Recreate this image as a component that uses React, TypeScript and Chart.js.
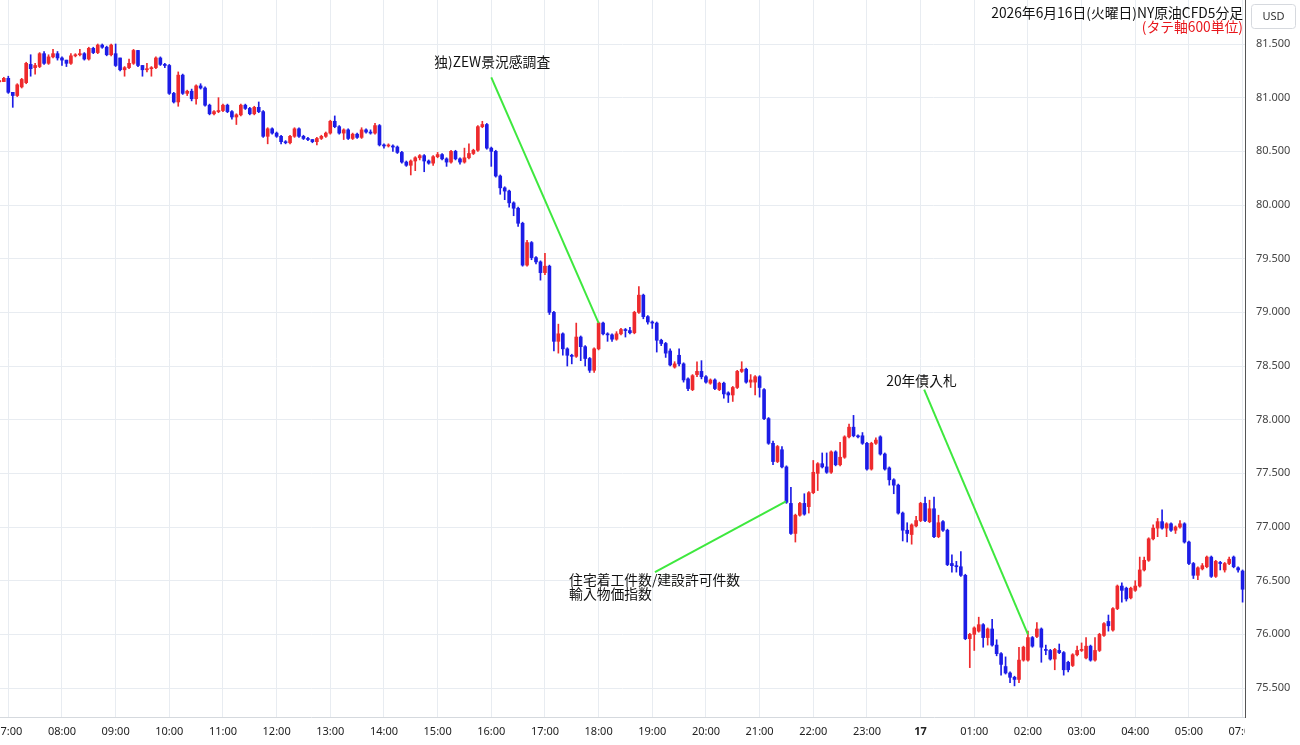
import { useEffect, useRef } from "react";
import { Chart, registerables } from "chart.js";

Chart.register(...registerables);

// ---------- data (5-minute candles, NY crude CFD) ----------
const preSessionTimes = ["05:50", "05:55"];
const sessionHours = ["07", "08", "09", "10", "11", "12", "13", "14", "15", "16", "17", "18", "19", "20", "21", "22", "23", "00", "01", "02", "03", "04", "05"];
const minuteSteps = ["00", "05", "10", "15", "20", "25", "30", "35", "40", "45", "50", "55"];
const postSessionTimes = ["07:00"];
const dayChangeLabel = "17";

const opens = [
  81.15, 81.15,
  81.18, 81.05, 81.02, 81.10, 81.14, 81.31, 81.28, 81.29, 81.41, 81.32, 81.38, 81.41,
  81.37, 81.35, 81.32, 81.39, 81.40, 81.41, 81.36, 81.46, 81.42, 81.49, 81.47, 81.40,
  81.41, 81.37, 81.26, 81.28, 81.32, 81.44, 81.30, 81.26, 81.27, 81.28, 81.37, 81.31,
  81.30, 81.04, 80.96, 81.21, 81.04, 81.06, 80.99, 81.11, 81.09, 80.93, 80.85, 80.87,
  80.88, 80.93, 80.87, 80.82, 80.84, 80.93, 80.90, 80.85, 80.91, 80.87, 80.64, 80.71,
  80.67, 80.64, 80.59, 80.58, 80.64, 80.71, 80.64, 80.62, 80.61, 80.59, 80.62, 80.64,
  80.67, 80.78, 80.73, 80.67, 80.70, 80.62, 80.66, 80.63, 80.70, 80.68, 80.67, 80.74,
  80.56, 80.55, 80.55, 80.54, 80.49, 80.40, 80.37, 80.41, 80.44, 80.46, 80.41, 80.39,
  80.45, 80.47, 80.43, 80.40, 80.50, 80.43, 80.40, 80.44, 80.48, 80.51, 80.73, 80.75,
  80.53, 80.50, 80.27, 80.16, 80.13, 80.02, 79.97, 79.83, 79.44, 79.65, 79.51, 79.47,
  79.37, 79.43, 79.00, 78.73, 78.80, 78.66, 78.60, 78.59, 78.77, 78.68, 78.57, 78.46,
  78.66, 78.90, 78.80, 78.79, 78.75, 78.80, 78.84, 78.83, 78.81, 79.00, 79.16, 78.96,
  78.91, 78.90, 78.74, 78.71, 78.64, 78.49, 78.60, 78.52, 78.38, 78.28, 78.42, 78.45,
  78.40, 78.34, 78.37, 78.28, 78.34, 78.25, 78.23, 78.30, 78.45, 78.47, 78.35, 78.35,
  78.40, 78.28, 78.01, 77.78, 77.61, 77.72, 77.56, 77.22, 76.94, 77.11, 77.22, 77.19,
  77.32, 77.50, 77.59, 77.56, 77.51, 77.70, 77.58, 77.65, 77.84, 77.93, 77.85, 77.85,
  77.78, 77.54, 77.78, 77.84, 77.68, 77.55, 77.44, 77.39, 77.13, 76.97, 76.93, 77.01,
  77.06, 77.22, 77.05, 77.17, 76.91, 77.05, 76.97, 76.66, 76.64, 76.63, 76.55, 75.96,
  76.00, 76.03, 76.09, 75.97, 76.05, 75.90, 75.82, 75.70, 75.64, 75.60, 75.58, 75.76,
  75.76, 75.97, 75.98, 76.05, 75.86, 75.85, 75.77, 75.85, 75.83, 75.74, 75.71, 75.81,
  75.85, 75.78, 75.89, 75.76, 75.85, 75.99, 76.12, 76.04, 76.24, 76.45, 76.43, 76.34,
  76.41, 76.45, 76.60, 76.69, 76.89, 76.99, 77.05, 76.99, 77.03, 76.97, 77.00, 77.03,
  76.86, 76.66, 76.55, 76.61, 76.63, 76.72, 76.54, 76.67, 76.60, 76.66, 76.72, 76.62,
  76.59,
];

const highs = [
  81.16, 81.19,
  81.20, 81.05, 81.13, 81.18, 81.33, 81.40, 81.32, 81.42, 81.43, 81.40, 81.45, 81.43,
  81.38, 81.35, 81.41, 81.41, 81.45, 81.42, 81.47, 81.47, 81.50, 81.50, 81.48, 81.50,
  81.50, 81.37, 81.29, 81.36, 81.45, 81.44, 81.30, 81.32, 81.29, 81.38, 81.38, 81.32,
  81.31, 81.05, 81.24, 81.22, 81.07, 81.08, 81.12, 81.13, 81.10, 80.94, 80.88, 81.00,
  80.94, 80.94, 80.88, 80.85, 80.94, 80.94, 80.91, 80.92, 80.96, 80.88, 80.72, 80.72,
  80.68, 80.65, 80.60, 80.65, 80.72, 80.72, 80.65, 80.63, 80.61, 80.63, 80.65, 80.68,
  80.79, 80.83, 80.74, 80.71, 80.71, 80.67, 80.67, 80.72, 80.71, 80.70, 80.76, 80.75,
  80.57, 80.57, 80.56, 80.55, 80.50, 80.41, 80.42, 80.45, 80.47, 80.47, 80.42, 80.46,
  80.49, 80.48, 80.44, 80.51, 80.51, 80.44, 80.53, 80.57, 80.52, 80.74, 80.78, 80.76,
  80.54, 80.51, 80.28, 80.17, 80.14, 80.03, 79.98, 79.84, 79.67, 79.66, 79.52, 79.48,
  79.55, 79.44, 79.01, 78.89, 78.81, 78.67, 78.61, 78.90, 78.78, 78.69, 78.58, 78.67,
  78.91, 78.91, 78.81, 78.80, 78.82, 78.85, 78.85, 78.86, 79.01, 79.24, 79.17, 78.97,
  78.92, 78.91, 78.75, 78.72, 78.66, 78.54, 78.66, 78.53, 78.39, 78.42, 78.54, 78.55,
  78.41, 78.38, 78.38, 78.35, 78.35, 78.26, 78.31, 78.46, 78.54, 78.48, 78.42, 78.41,
  78.41, 78.29, 78.02, 77.80, 77.76, 77.75, 77.57, 77.37, 77.12, 77.23, 77.31, 77.33,
  77.62, 77.60, 77.69, 77.69, 77.71, 77.71, 77.79, 77.85, 77.96, 78.04, 77.86, 77.88,
  77.79, 77.79, 77.83, 77.85, 77.69, 77.56, 77.45, 77.40, 77.14, 77.04, 77.03, 77.10,
  77.23, 77.28, 77.25, 77.28, 77.11, 77.06, 76.98, 76.74, 76.68, 76.77, 76.56, 76.01,
  76.07, 76.16, 76.10, 76.06, 76.14, 75.95, 75.83, 75.79, 75.65, 75.61, 75.88, 75.89,
  76.03, 75.98, 76.11, 76.06, 75.90, 75.86, 75.87, 75.91, 75.84, 75.75, 75.82, 75.89,
  75.92, 75.97, 75.90, 75.97, 76.01, 76.11, 76.18, 76.25, 76.46, 76.48, 76.44, 76.44,
  76.50, 76.72, 76.72, 76.90, 77.02, 77.08, 77.16, 77.04, 77.04, 77.01, 77.06, 77.04,
  76.87, 76.67, 76.63, 76.66, 76.73, 76.73, 76.69, 76.68, 76.67, 76.72, 76.73, 76.63,
  76.60,
];

const lows = [
  81.14, 81.15,
  81.04, 80.91, 81.01, 81.09, 81.13, 81.20, 81.22, 81.28, 81.31, 81.31, 81.37, 81.35,
  81.30, 81.29, 81.31, 81.38, 81.39, 81.35, 81.35, 81.41, 81.41, 81.46, 81.39, 81.39,
  81.29, 81.25, 81.20, 81.27, 81.31, 81.29, 81.20, 81.24, 81.20, 81.27, 81.30, 81.28,
  81.03, 80.95, 80.92, 81.03, 81.02, 80.97, 80.94, 81.08, 80.92, 80.84, 80.84, 80.86,
  80.87, 80.86, 80.80, 80.75, 80.83, 80.89, 80.84, 80.84, 80.86, 80.63, 80.57, 80.66,
  80.63, 80.57, 80.57, 80.57, 80.63, 80.63, 80.61, 80.60, 80.58, 80.56, 80.61, 80.63,
  80.66, 80.72, 80.66, 80.61, 80.61, 80.61, 80.62, 80.62, 80.67, 80.66, 80.66, 80.55,
  80.53, 80.54, 80.50, 80.48, 80.39, 80.36, 80.28, 80.32, 80.42, 80.31, 80.38, 80.37,
  80.44, 80.42, 80.36, 80.39, 80.42, 80.38, 80.39, 80.43, 80.47, 80.50, 80.72, 80.52,
  80.36, 80.26, 80.10, 80.05, 79.98, 79.90, 79.80, 79.43, 79.43, 79.49, 79.45, 79.30,
  79.35, 78.98, 78.64, 78.62, 78.60, 78.50, 78.52, 78.58, 78.55, 78.50, 78.44, 78.44,
  78.65, 78.79, 78.73, 78.73, 78.74, 78.79, 78.77, 78.80, 78.80, 78.99, 78.94, 78.89,
  78.85, 78.63, 78.69, 78.58, 78.50, 78.48, 78.50, 78.35, 78.27, 78.27, 78.40, 78.38,
  78.34, 78.33, 78.28, 78.27, 78.20, 78.16, 78.17, 78.29, 78.44, 78.34, 78.30, 78.23,
  78.21, 78.00, 77.77, 77.58, 77.60, 77.55, 77.22, 76.93, 76.86, 77.10, 77.11, 77.13,
  77.31, 77.34, 77.55, 77.50, 77.50, 77.57, 77.57, 77.64, 77.83, 77.84, 77.83, 77.77,
  77.53, 77.53, 77.77, 77.67, 77.53, 77.39, 77.31, 77.12, 76.87, 76.86, 76.84, 77.00,
  77.05, 77.05, 77.04, 76.90, 76.90, 76.96, 76.64, 76.58, 76.58, 76.54, 75.95, 75.69,
  75.85, 76.02, 75.88, 75.90, 75.89, 75.80, 75.62, 75.63, 75.55, 75.52, 75.55, 75.75,
  75.75, 75.88, 75.97, 75.74, 75.81, 75.76, 75.67, 75.82, 75.62, 75.65, 75.70, 75.80,
  75.84, 75.77, 75.75, 75.75, 75.84, 75.98, 76.03, 76.03, 76.23, 76.30, 76.31, 76.33,
  76.40, 76.44, 76.59, 76.68, 76.88, 76.91, 76.98, 76.91, 76.96, 76.94, 76.99, 76.85,
  76.65, 76.52, 76.51, 76.60, 76.62, 76.53, 76.53, 76.60, 76.58, 76.65, 76.62, 76.58,
  76.30,
];

const closes = [
  81.15, 81.18,
  81.05, 81.02, 81.12, 81.17, 81.32, 81.27, 81.30, 81.41, 81.32, 81.38, 81.41, 81.37,
  81.35, 81.32, 81.39, 81.40, 81.41, 81.36, 81.46, 81.42, 81.49, 81.47, 81.40, 81.49,
  81.30, 81.26, 81.28, 81.32, 81.44, 81.30, 81.26, 81.27, 81.28, 81.37, 81.31, 81.30,
  81.04, 80.96, 81.21, 81.04, 81.06, 80.99, 81.11, 81.09, 80.93, 80.85, 80.87, 80.88,
  80.93, 80.87, 80.82, 80.84, 80.93, 80.90, 80.85, 80.91, 80.87, 80.64, 80.71, 80.67,
  80.64, 80.59, 80.58, 80.64, 80.71, 80.64, 80.62, 80.61, 80.59, 80.62, 80.64, 80.67,
  80.78, 80.73, 80.67, 80.70, 80.62, 80.66, 80.63, 80.70, 80.68, 80.67, 80.74, 80.56,
  80.55, 80.55, 80.54, 80.49, 80.40, 80.37, 80.41, 80.44, 80.46, 80.41, 80.39, 80.45,
  80.47, 80.43, 80.40, 80.50, 80.43, 80.40, 80.44, 80.48, 80.51, 80.73, 80.75, 80.53,
  80.50, 80.27, 80.16, 80.13, 80.02, 79.97, 79.83, 79.44, 79.65, 79.51, 79.47, 79.37,
  79.43, 79.00, 78.73, 78.80, 78.66, 78.60, 78.59, 78.77, 78.68, 78.57, 78.46, 78.66,
  78.90, 78.80, 78.79, 78.75, 78.80, 78.84, 78.83, 78.81, 79.00, 79.16, 78.96, 78.91,
  78.90, 78.74, 78.71, 78.62, 78.51, 78.52, 78.52, 78.37, 78.29, 78.41, 78.45, 78.40,
  78.35, 78.37, 78.29, 78.34, 78.24, 78.23, 78.30, 78.45, 78.47, 78.35, 78.37, 78.40,
  78.30, 78.01, 77.78, 77.61, 77.75, 77.56, 77.23, 76.94, 77.11, 77.22, 77.12, 77.32,
  77.51, 77.59, 77.56, 77.51, 77.70, 77.58, 77.65, 77.84, 77.93, 77.85, 77.84, 77.78,
  77.54, 77.78, 77.81, 77.68, 77.54, 77.44, 77.39, 77.13, 76.97, 76.94, 77.02, 77.06,
  77.22, 77.06, 77.17, 76.91, 77.04, 76.97, 76.65, 76.64, 76.63, 76.55, 75.96, 76.00,
  76.06, 76.09, 75.97, 76.05, 75.90, 75.82, 75.72, 75.64, 75.60, 75.58, 75.76, 75.88,
  75.97, 75.89, 76.05, 75.88, 75.85, 75.77, 75.86, 75.83, 75.67, 75.67, 75.81, 75.85,
  75.86, 75.89, 75.76, 75.85, 76.00, 76.10, 76.08, 76.24, 76.45, 76.41, 76.33, 76.43,
  76.45, 76.60, 76.69, 76.89, 76.99, 77.05, 76.99, 77.03, 76.97, 77.00, 77.03, 76.86,
  76.66, 76.55, 76.62, 76.64, 76.72, 76.54, 76.68, 76.66, 76.66, 76.70, 76.63, 76.60,
  76.42,
];

const yTickValues = [75.5, 76.0, 76.5, 77.0, 77.5, 78.0, 78.5, 79.0, 79.5, 80.0, 80.5, 81.0, 81.5];

const titleLine1 = "2026年6月16日(火曜日)NY原油CFD5分足";
const titleLine2 = "(タテ軸600単位)";
const currencyLabel = "USD";

// annotation text + leader lines, in data coordinates (candle index, price)
const notes = [
  { lines: ["独)ZEW景況感調査"], align: "center", at: [110.2, 81.33], from: [110, 81.19], to: [134, 78.9] },
  { lines: ["20年債入札"], align: "center", at: [206.2, 78.36], from: [206.8, 78.28], to: [230, 76.0] },
  { lines: ["住宅着工件数/建設許可件数", "輸入物価指数"], align: "left", at: [127.4, 76.506], lineGap: 0.13, from: [146.6, 76.58], to: [175.9, 77.24] },
];

// ---------- view settings ----------
const X_MIN = 0.144;
const X_MAX = 278.54;
const Y_MIN = 75.23;
const Y_MAX = 81.91;
const RED = "#ee2a2d";
const BLUE = "#1c1ce6";
const GRID = "#e8ecf1";
const GREEN = "#3ee83e";
const JP_FONT = '"Noto Sans CJK JP", "Noto Sans", sans-serif';
const LATIN_FONT = '"Noto Sans", "DejaVu Sans", sans-serif';

const times: string[] = [
  ...preSessionTimes,
  ...sessionHours.flatMap((h) => minuteSteps.map((m) => `${h}:${m}`)),
  ...postSessionTimes,
];

const overlay = {
  id: "overlay",
  afterDatasetsDraw(chart: any) {
    const { ctx, chartArea } = chart;
    const xs = chart.scales.x;
    const ys = chart.scales.y;
    ctx.save();
    ctx.beginPath();
    ctx.rect(chartArea.left, chartArea.top, chartArea.width, chartArea.height);
    ctx.clip();
    for (const n of notes) {
      ctx.strokeStyle = GREEN;
      ctx.lineWidth = 2;
      ctx.beginPath();
      ctx.moveTo(xs.getPixelForValue(n.from[0]), ys.getPixelForValue(n.from[1]));
      ctx.lineTo(xs.getPixelForValue(n.to[0]), ys.getPixelForValue(n.to[1]));
      ctx.stroke();
      ctx.fillStyle = "#111";
      ctx.font = `13.8px ${JP_FONT}`;
      ctx.textBaseline = "middle";
      ctx.textAlign = n.align as CanvasTextAlign;
      n.lines.forEach((line, i) => {
        const price = n.at[1] - i * ((n as any).lineGap || 0);
        ctx.fillText(line, xs.getPixelForValue(n.at[0]), ys.getPixelForValue(price));
      });
    }
    // title
    ctx.textAlign = "right";
    ctx.textBaseline = "middle";
    ctx.font = `13.8px ${JP_FONT}`;
    ctx.fillStyle = "#111";
    ctx.fillText(titleLine1, chartArea.right - 2, chartArea.top + 13);
    ctx.fillStyle = "#e8161c";
    ctx.fillText(titleLine2, chartArea.right - 2, chartArea.top + 27);
    ctx.restore();
  },
  afterDraw(chart: any) {
    const { ctx, chartArea } = chart;
    const xs = chart.scales.x;
    const ys = chart.scales.y;
    ctx.save();
    // y labels
    ctx.font = `11px ${LATIN_FONT}`;
    ctx.fillStyle = "#444";
    ctx.textAlign = "left";
    ctx.textBaseline = "middle";
    for (const v of yTickValues) {
      ctx.fillText(v.toFixed(3), chartArea.right + 11, ys.getPixelForValue(v));
    }
    // currency box
    const bx = chartArea.right + 6;
    const by = chartArea.top + 4;
    ctx.strokeStyle = "#d6d9de";
    ctx.lineWidth = 1;
    ctx.fillStyle = "#fff";
    ctx.beginPath();
    (ctx as any).roundRect(bx + 0.5, by + 0.5, 44, 24, 3);
    ctx.fill();
    ctx.stroke();
    ctx.fillStyle = "#333";
    ctx.textAlign = "center";
    ctx.font = `11px ${LATIN_FONT}`;
    ctx.fillText(currencyLabel, bx + 22.5, by + 12.5);
    // x labels (clipped to the plot width)
    ctx.beginPath();
    ctx.rect(chartArea.left, chartArea.bottom, chartArea.width, 40);
    ctx.clip();
    ctx.textAlign = "center";
    ctx.fillStyle = "#222";
    times.forEach((t, i) => {
      if (!t.endsWith(":00")) return;
      const isDay = t === "00:00";
      ctx.font = `${isDay ? "bold " : ""}11px ${LATIN_FONT}`;
      ctx.fillText(isDay ? dayChangeLabel : t, xs.getPixelForValue(i), chartArea.bottom + 15);
    });
    ctx.restore();
  },
};

export default function App() {
  const ref = useRef<HTMLCanvasElement>(null);
  useEffect(() => {
    document.body.style.margin = "0";
    const n = closes.length;
    const idx = Array.from({ length: n }, (_, i) => i);
    const colors = idx.map((i) => (closes[i] >= opens[i] ? RED : BLUE));
    const wickData = idx.map((i) => ({
      x: i,
      y: [Math.min(lows[i], opens[i], closes[i]), Math.max(highs[i], opens[i], closes[i])],
    }));
    const bodyData = idx.map((i) => ({
      x: i,
      y: [Math.min(opens[i], closes[i]), Math.max(opens[i], closes[i])],
    }));
    const hourTicks = times.map((t, i) => (t.endsWith(":00") ? i : -1)).filter((v) => v >= 0);
    const chart = new Chart(ref.current as HTMLCanvasElement, {
      type: "bar",
      data: {
        datasets: [
          { data: wickData as any, backgroundColor: colors, barThickness: 1, grouped: false, order: 2 } as any,
          { data: bodyData as any, backgroundColor: colors, barThickness: 3, grouped: false, minBarLength: 1, order: 1 } as any,
        ],
      },
      options: {
        animation: false,
        responsive: false,
        devicePixelRatio: 1,
        layout: { padding: 0 },
        plugins: { legend: { display: false }, tooltip: { enabled: false } },
        scales: {
          x: {
            type: "linear",
            min: X_MIN,
            max: X_MAX,
            offset: false,
            grid: { color: GRID, offset: false, drawTicks: false },
            border: { display: true, color: "#d5d9de" },
            ticks: { display: false },
            afterBuildTicks: (s: any) => {
              s.ticks = hourTicks.map((v) => ({ value: v }));
            },
            afterFit: (s: any) => {
              s.height = 28;
            },
          },
          y: {
            position: "right",
            min: Y_MIN,
            max: Y_MAX,
            grid: { color: GRID, drawTicks: false },
            border: { display: true, color: "#555" },
            ticks: { display: false },
            afterBuildTicks: (s: any) => {
              s.ticks = yTickValues.map((v) => ({ value: v }));
            },
            afterFit: (s: any) => {
              s.width = 55;
            },
          },
        } as any,
      },
      plugins: [overlay],
    });
    return () => chart.destroy();
  }, []);
  return <canvas ref={ref} width={1300} height={745} style={{ display: "block" }} />;
}
